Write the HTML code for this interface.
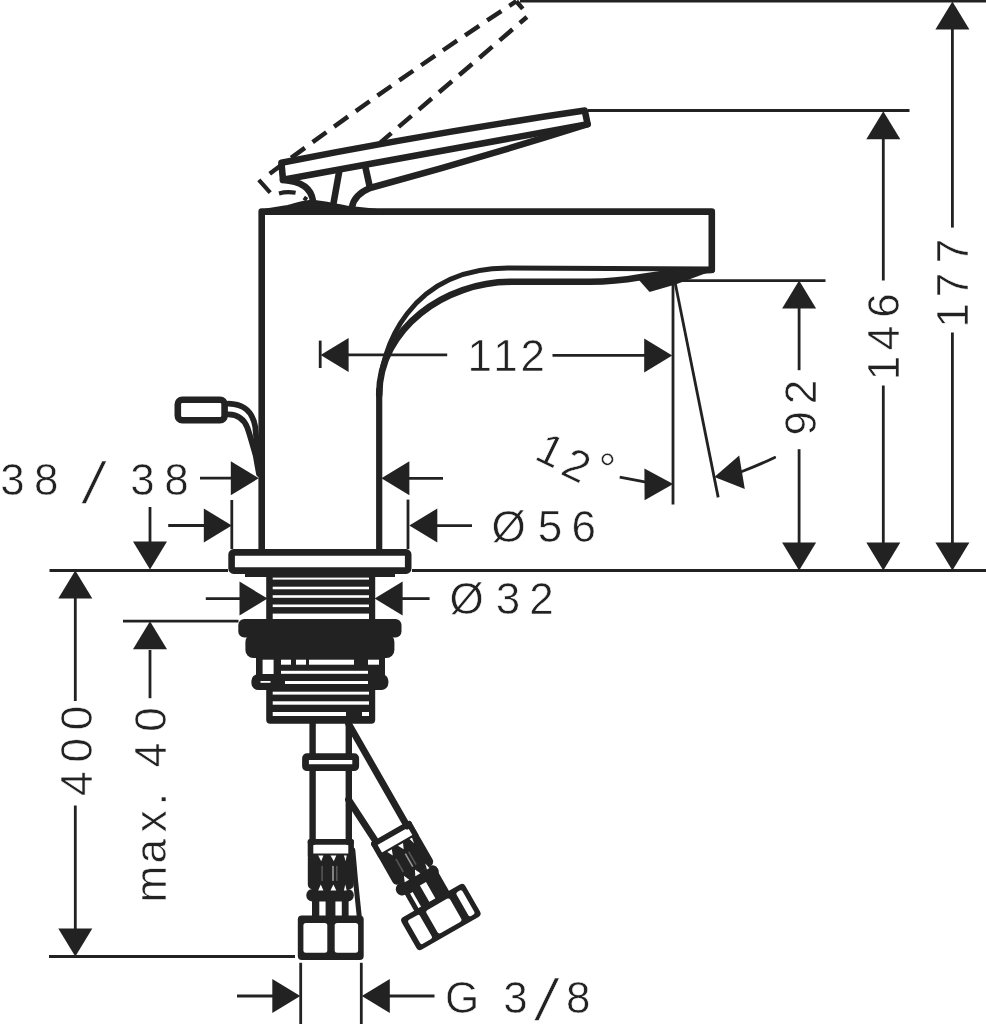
<!DOCTYPE html>
<html lang="en"><head><meta charset="utf-8"><title>Dimensional drawing</title>
<style>
html,body{margin:0;padding:0;background:#fff;}
body{width:986px;height:1024px;overflow:hidden;}
svg{display:block;}
svg{filter:grayscale(1);}
text{font-family:"Liberation Sans",sans-serif;fill:#222226;stroke:#fff;stroke-width:0.6px;}
</style></head><body>
<svg width="986" height="1024" viewBox="0 0 986 1024">
<rect width="986" height="1024" fill="#fff"/>
<line x1="520" y1="1.2" x2="986" y2="1.2" stroke="#222226" stroke-width="2.8" />
<line x1="588" y1="110.5" x2="909.5" y2="110.5" stroke="#222226" stroke-width="2.8" />
<line x1="675" y1="280.7" x2="825.5" y2="280.7" stroke="#222226" stroke-width="2.8" />
<line x1="49.5" y1="570.5" x2="228" y2="570.5" stroke="#222226" stroke-width="2.8" />
<line x1="412" y1="570.5" x2="986" y2="570.5" stroke="#222226" stroke-width="2.8" />
<line x1="49" y1="956.5" x2="295" y2="956.5" stroke="#222226" stroke-width="2.8" />
<line x1="123" y1="621.2" x2="238.5" y2="621.2" stroke="#222226" stroke-width="2.8" />
<line x1="673" y1="282" x2="673" y2="504.5" stroke="#222226" stroke-width="2.8" />
<line x1="675" y1="282" x2="718.2" y2="497.4" stroke="#222226" stroke-width="2.8" />
<line x1="231.8" y1="500" x2="231.8" y2="549" stroke="#222226" stroke-width="2.8" />
<line x1="408" y1="499.6" x2="408" y2="549" stroke="#222226" stroke-width="2.8" />
<line x1="300.7" y1="962.8" x2="300.7" y2="1024" stroke="#222226" stroke-width="2.8" />
<line x1="361.3" y1="962.8" x2="361.3" y2="1024" stroke="#222226" stroke-width="2.8" />
<line x1="320.2" y1="340.6" x2="320.2" y2="368" stroke="#222226" stroke-width="2.8" />
<polygon points="952.4,1.5 969.4,29.5 935.4,29.5" fill="#222226"/>
<line x1="952.4" y1="29" x2="952.4" y2="227.6" stroke="#222226" stroke-width="2.8" />
<line x1="952.4" y1="332.5" x2="952.4" y2="543" stroke="#222226" stroke-width="2.8" />
<polygon points="952.4,570.4 935.4,542.4 969.4,542.4" fill="#222226"/>
<polygon points="883.3,111.3 900.3,139.3 866.3,139.3" fill="#222226"/>
<line x1="883.3" y1="138" x2="883.3" y2="280.5" stroke="#222226" stroke-width="2.8" />
<line x1="883.3" y1="385.5" x2="883.3" y2="543" stroke="#222226" stroke-width="2.8" />
<polygon points="883.3,570.4 866.3,542.4 900.3,542.4" fill="#222226"/>
<polygon points="799.1,280.6 816.1,308.6 782.1,308.6" fill="#222226"/>
<line x1="799.1" y1="308" x2="799.1" y2="370.2" stroke="#222226" stroke-width="2.8" />
<line x1="799.1" y1="449.2" x2="799.1" y2="543" stroke="#222226" stroke-width="2.8" />
<polygon points="799.1,570.4 782.1,542.4 816.1,542.4" fill="#222226"/>
<polygon points="320.6,354.9 348.6,337.9 348.6,371.9" fill="#222226"/>
<line x1="348" y1="354.9" x2="447.2" y2="354.9" stroke="#222226" stroke-width="2.8" />
<line x1="552.5" y1="355.3" x2="645" y2="355.3" stroke="#222226" stroke-width="2.8" />
<polygon points="672.2,355.5 644.2,372.5 644.2,338.5" fill="#222226"/>
<line x1="200" y1="478.2" x2="234" y2="478.2" stroke="#222226" stroke-width="2.8" />
<polygon points="258.8,478.2 230.8,495.2 230.8,461.2" fill="#222226"/>
<polygon points="381.4,478.3 409.4,461.3 409.4,495.3" fill="#222226"/>
<line x1="407" y1="478.3" x2="443" y2="478.3" stroke="#222226" stroke-width="2.8" />
<line x1="168.2" y1="525.5" x2="205" y2="525.5" stroke="#222226" stroke-width="2.8" />
<polygon points="231.8,525.5 203.8,542.5 203.8,508.5" fill="#222226"/>
<polygon points="409.3,525.6 437.3,508.6 437.3,542.6" fill="#222226"/>
<line x1="436" y1="525.6" x2="472" y2="525.6" stroke="#222226" stroke-width="2.8" />
<line x1="205.8" y1="598.6" x2="242" y2="598.6" stroke="#222226" stroke-width="2.8" />
<polygon points="267.5,598.6 239.5,615.6 239.5,581.6" fill="#222226"/>
<polygon points="374.6,598.6 402.6,581.6 402.6,615.6" fill="#222226"/>
<line x1="399" y1="598.6" x2="429.6" y2="598.6" stroke="#222226" stroke-width="2.8" />
<line x1="150" y1="507" x2="150" y2="543" stroke="#222226" stroke-width="2.8" />
<polygon points="150.0,569.5 133.0,541.5 167.0,541.5" fill="#222226"/>
<polygon points="150.0,621.2 167.0,649.2 133.0,649.2" fill="#222226"/>
<line x1="150" y1="650" x2="150" y2="698.2" stroke="#222226" stroke-width="2.8" />
<polygon points="75.3,570.5 92.3,598.5 58.3,598.5" fill="#222226"/>
<line x1="75.3" y1="598" x2="75.3" y2="701" stroke="#222226" stroke-width="2.8" />
<line x1="75.3" y1="805.5" x2="75.3" y2="930" stroke="#222226" stroke-width="2.8" />
<polygon points="75.3,956.5 58.3,928.5 92.3,928.5" fill="#222226"/>
<line x1="237" y1="996" x2="273" y2="996" stroke="#222226" stroke-width="2.8" />
<polygon points="300.3,996.0 272.3,1013.0 272.3,979.0" fill="#222226"/>
<polygon points="361.8,996.0 389.8,979.0 389.8,1013.0" fill="#222226"/>
<line x1="388" y1="996" x2="434.5" y2="996" stroke="#222226" stroke-width="2.8" />
<polygon points="673.2,484.1 644.6,500.3 644.4,468.4" fill="#222226"/>
<line x1="619.7" y1="477.2" x2="646" y2="482.2" stroke="#222226" stroke-width="2.8" />
<polygon points="714.4,476.9 739.2,455.5 744.8,489.0" fill="#222226"/>
<path d="M742,471.5 Q760,464.5 774.7,457.4" fill="none" stroke="#222226" stroke-width="2.8" stroke-linejoin="round" stroke-linecap="round" />
<text x="479.8 505.5 532.7" y="371.1" font-size="44" text-anchor="middle">112</text>
<text x="12.5 46.2" y="495.4" font-size="44" text-anchor="middle">38</text>
<text x="142.5 176.5" y="495.4" font-size="44" text-anchor="middle">38</text>
<text x="0" y="0" font-size="58" text-anchor="middle" transform="translate(89.60000000000001,502.5) skewX(-12)" stroke="#fff" stroke-width="0.9">/</text>
<text x="508.5 550.0 583.8" y="541.8" font-size="44" text-anchor="middle">Ø56</text>
<text x="466.5 508.0 541.4" y="614.1" font-size="44" text-anchor="middle">Ø32</text>
<text x="462.1 490.0 515.4" y="1012.5" font-size="44" text-anchor="middle">G 3</text>
<text x="578.3" y="1012.5" font-size="44" text-anchor="middle">8</text>
<text x="0" y="0" font-size="58" text-anchor="middle" transform="translate(542.3,1020) skewX(-12)" stroke="#fff" stroke-width="0.9">/</text>
<text x="-6.7 23.3 51.6" y="1 3 -6.3" font-size="44" transform="translate(539.5,460.5) rotate(26)">12°</text>
<text x="-423.3 -392.1" y="0" font-size="44" text-anchor="middle" transform="translate(815.8,0) rotate(-90)">92</text>
<text x="-368.0 -337.9 -305.6" y="0" font-size="44" text-anchor="middle" transform="translate(899,0) rotate(-90)">146</text>
<text x="-315.2 -285.1 -251.1" y="0" font-size="44" text-anchor="middle" transform="translate(968,0) rotate(-90)">177</text>
<text x="-783.7 -750.3 -718.1" y="0" font-size="44" text-anchor="middle" transform="translate(91.8,0) rotate(-90)">400</text>
<text x="-884.1 -851.2 -821.2 -799.1 -777.0 -755.0 -719.5" y="0" font-size="44" text-anchor="middle" transform="translate(166,0) rotate(-90)">max. 40</text>
<path d="M261.7,552 L261.7,211.6 L711.8,211.6 L711.8,269.5" fill="none" stroke="#222226" stroke-width="6.6" stroke-linejoin="round" stroke-linecap="round" />
<path d="M711.8,269 L507.9,268 C411.2,268 379.2,346.5 379.2,396" fill="none" stroke="#222226" stroke-width="4.8" stroke-linejoin="round" stroke-linecap="round" />
<path d="M379.2,390 L379.2,552" fill="none" stroke="#222226" stroke-width="6.2" stroke-linejoin="round" stroke-linecap="round" />
<path d="M379.2,394.7 C379.2,328.2 445.3,281.8 511.2,281.8 L590,281.8 C610,281.6 625,279.8 640,277.2 C660,273.8 680,271.2 711.8,270" fill="none" stroke="#222226" stroke-width="6.6" stroke-linejoin="round" stroke-linecap="round" />
<path d="M640.5,279.5 L650,290.3 L675,283 L706,271.5 Z" fill="#222226" stroke="#222226" stroke-width="3" stroke-linejoin="round" stroke-linecap="round" />
<path d="M266,209.5 L287.5,206 C296,204 302,201.5 311,200.8 C320,200.8 335,204.5 350,207 L376,209.8 Z" fill="#222226" stroke="#222226" stroke-width="2" stroke-linejoin="round" stroke-linecap="round" />
<path d="M281.4,162.8 Q433,132.8 584.8,110.6 L587.6,124.2 L283,179.8 Z" fill="none" stroke="#222226" stroke-width="6.6" stroke-linejoin="round" stroke-linecap="round" />
<path d="M587.6,124.2 Q479,158.5 370,188 C358,193 353.5,199 352,207" fill="none" stroke="#222226" stroke-width="6.6" stroke-linejoin="round" stroke-linecap="round" />
<path d="M283,180 C298,181 311,186 313,201" fill="none" stroke="#222226" stroke-width="6.6" stroke-linejoin="round" stroke-linecap="round" />
<path d="M339.3,171 L333.2,205" fill="none" stroke="#222226" stroke-width="6.6" stroke-linejoin="round" stroke-linecap="round" />
<path d="M365.6,168 L369.8,187" fill="none" stroke="#222226" stroke-width="6.6" stroke-linejoin="round" stroke-linecap="round" />
<path d="M516.3,1.2 Q392.4,82.6 268.5,174.6" fill="none" stroke="#222226" stroke-width="4.5" stroke-dasharray="17 9.6" stroke-dashoffset="8.6"/>
<path d="M526.9,17 L380,142.9" fill="none" stroke="#222226" stroke-width="4.5" stroke-dasharray="17 9.6" stroke-dashoffset="7.7"/>
<path d="M516.3,1.2 L522.8,8.9" fill="none" stroke="#222226" stroke-width="4.5"/>
<path d="M258.8,179.8 L270.2,192.6 M279,193.4 Q287,191.2 295.6,192.8 M303.8,197.6 L307,199.8" fill="none" stroke="#222226" stroke-width="4.2"/>
<rect x="177.8" y="399.8" width="46.8" height="20.4" rx="4.5" fill="none" stroke="#222226" stroke-width="6.6"/>
<path d="M228.5,403.6 C244,404 252.5,411 255.3,427 L257.8,455" fill="none" stroke="#222226" stroke-width="5.8" stroke-linejoin="round" stroke-linecap="round" />
<path d="M228.5,414.4 C237,414.6 243.5,418 247.3,427.5 C250,435 253,446 255.8,456 L259,474" fill="none" stroke="#222226" stroke-width="5.8" stroke-linejoin="round" stroke-linecap="round" />
<rect x="231.6" y="552.4" width="176.6" height="18.2" rx="2" fill="#fff" stroke="#222226" stroke-width="6.6"/>
<rect x="245" y="572" width="150" height="5" fill="#222226"/>
<rect x="266.2" y="575" width="109" height="46" fill="#222226"/>
<rect x="272.7" y="577.6" width="96.3" height="2.0" fill="#fff"/>
<rect x="272.7" y="586.7" width="96.3" height="2.6" fill="#fff"/>
<rect x="272.7" y="595.2" width="96.3" height="2.6" fill="#fff"/>
<rect x="272.7" y="604.5" width="96.3" height="2.6" fill="#fff"/>
<rect x="272.7" y="613.6" width="96.3" height="5.6" fill="#fff"/>
<rect x="238.3" y="619" width="163.2" height="18.5" rx="6" fill="#222226"/>
<rect x="245.4" y="634" width="149" height="24" rx="8" fill="#222226"/>
<rect x="256" y="655" width="129" height="24" fill="#222226"/>
<rect x="262.6" y="659.7" width="11" height="15" fill="#fff"/>
<rect x="281" y="659.7" width="10" height="5" fill="#fff"/>
<rect x="296" y="659.7" width="10" height="5" fill="#fff"/>
<rect x="309" y="659.7" width="45" height="5" fill="#fff"/>
<rect x="368" y="659.7" width="11" height="5" fill="#fff"/>
<rect x="281" y="670.8" width="87" height="3" fill="#fff"/>
<rect x="251.4" y="674" width="137" height="16" rx="7" fill="#222226"/>
<rect x="285" y="681" width="83" height="3" fill="#fff"/>
<rect x="260.5" y="681" width="10" height="1.8" fill="#fff"/>
<rect x="266.2" y="686" width="109" height="37.8" rx="4" fill="#222226"/>
<rect x="272.7" y="691.7" width="96.3" height="2.9" fill="#fff"/>
<rect x="272.7" y="701.3" width="96.3" height="3.4" fill="#fff"/>
<rect x="272.7" y="712" width="96.3" height="4.0" fill="#fff"/>
<rect x="346" y="711" width="16" height="6" fill="#222226"/>
<path d="M312.6,723 L312.6,842 M348.8,723 L348.8,842" fill="none" stroke="#222226" stroke-width="6.4" stroke-linejoin="round" stroke-linecap="round" />
<rect x="305.5" y="756.7" width="50.2" height="11" rx="1.5" fill="#fff" stroke="#222226" stroke-width="6.8"/>
<path d="M310.5,841.9 L351.1,841.9" fill="none" stroke="#222226" stroke-width="5.6" stroke-linejoin="round" stroke-linecap="round" />
<path d="M310.5,841.9 L310.5,855.9 M351.1,841.9 L351.1,855.9" fill="none" stroke="#222226" stroke-width="5.6" stroke-linejoin="round" stroke-linecap="round" />
<rect x="307.8" y="853.4" width="46" height="36" rx="5" fill="#222226"/>
<rect x="306.3" y="888.9" width="47.5" height="12.5" rx="6" fill="#222226"/>
<polygon points="318.2,855.5 323.40000000000003,855.5 321.2,861.3" fill="#fff"/>
<polygon points="318.2,890.5 323.40000000000003,890.5 320.8,884.5" fill="#fff"/>
<polygon points="330.50000000000006,855.5 336.3,855.5 333.8,861.3" fill="#fff"/>
<polygon points="330.50000000000006,890.5 336.3,890.5 333.40000000000003,884.5" fill="#fff"/>
<polygon points="343.90000000000003,855.5 346.7,855.5 345.7,861.3" fill="#fff"/>
<polygon points="343.90000000000003,890.5 346.7,890.5 345.3,884.5" fill="#fff"/>
<rect x="321.3" y="865.9" width="1.6" height="15" fill="#55555a"/>
<rect x="332.2" y="865.9" width="1.6" height="15" fill="#99999c"/>
<rect x="336.0" y="865.9" width="1.6" height="15" fill="#55555a"/>
<rect x="312" y="899" width="7.3" height="19" fill="#222226"/>
<rect x="325.6" y="899" width="9.8" height="19" fill="#222226"/>
<rect x="341.8" y="899" width="6.8" height="19" fill="#222226"/>
<path d="M352.8,850 L355.5,880 L359.3,917" fill="none" stroke="#222226" stroke-width="5" stroke-linejoin="round" stroke-linecap="round" />
<rect x="297.8" y="915.5" width="65.9" height="44.6" rx="4" fill="#222226"/>
<rect x="303.4" y="923" width="23.9" height="29.8" rx="2.5" fill="#fff"/>
<rect x="334.7" y="923" width="23.4" height="29.8" rx="2.5" fill="#fff"/>
<g transform="translate(348.5,723.6) rotate(-29.8)">
<path d="M0,0 L0,118 M-37.8,66 L-35,114" fill="none" stroke="#222226" stroke-width="6.8" stroke-linejoin="round" stroke-linecap="round" />
<path d="M-37.8,117 L2.8000000000000007,117" fill="none" stroke="#222226" stroke-width="5.6" stroke-linejoin="round" stroke-linecap="round" />
<path d="M-37.8,117 L-37.8,131 M2.8000000000000007,117 L2.8000000000000007,131" fill="none" stroke="#222226" stroke-width="5.6" stroke-linejoin="round" stroke-linecap="round" />
<rect x="-40.5" y="128.5" width="46" height="36" rx="5" fill="#222226"/>
<rect x="-42.0" y="164" width="47.5" height="12.5" rx="6" fill="#222226"/>
<polygon points="-30.1,130.6 -24.9,130.6 -27.1,136.4" fill="#fff"/>
<polygon points="-30.1,165.6 -24.9,165.6 -27.5,159.6" fill="#fff"/>
<polygon points="-17.8,130.6 -12.0,130.6 -14.5,136.4" fill="#fff"/>
<polygon points="-17.8,165.6 -12.0,165.6 -14.9,159.6" fill="#fff"/>
<polygon points="-4.4,130.6 -1.6,130.6 -2.6,136.4" fill="#fff"/>
<polygon points="-4.4,165.6 -1.6,165.6 -3.0,159.6" fill="#fff"/>
<rect x="-27.0" y="141" width="1.6" height="15" fill="#55555a"/>
<rect x="-16.1" y="141" width="1.6" height="15" fill="#99999c"/>
<rect x="-12.3" y="141" width="1.6" height="15" fill="#55555a"/>
<rect x="-36" y="172" width="40" height="27" fill="#222226"/>
<rect x="-31" y="178" width="3" height="17" fill="#fff"/>
<rect x="-18.5" y="176" width="7" height="19" fill="#fff"/>
<rect x="-52.6" y="195" width="73.3" height="37.5" rx="4" fill="#222226"/>
<rect x="-47" y="200.4" width="13.5" height="27.6" rx="2" fill="#fff"/>
<rect x="-26.5" y="201" width="27.3" height="26.6" rx="2.5" fill="#fff"/>
<rect x="8.8" y="200.2" width="6.8" height="27.6" rx="2" fill="#fff"/>
</g>
</svg>
</body></html>
